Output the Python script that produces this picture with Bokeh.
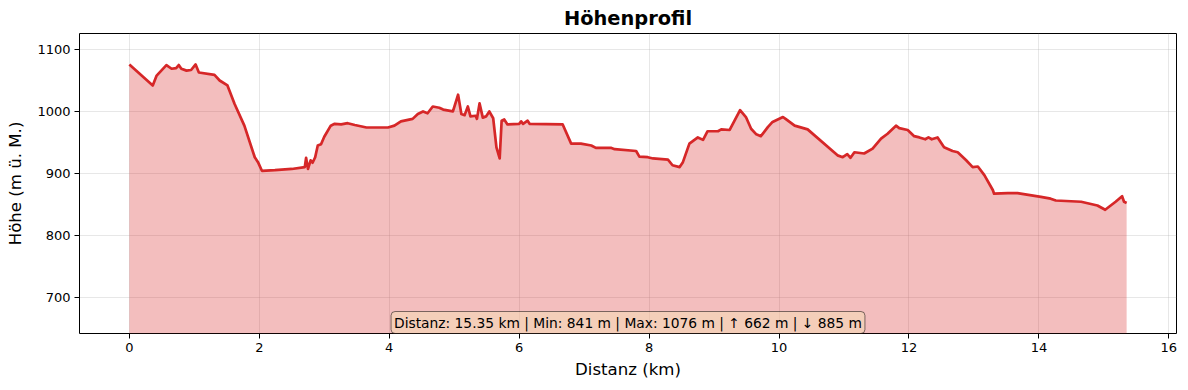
from bokeh.plotting import figure
from bokeh.models import Range1d, Label, FixedTicker
from bokeh.embed import file_html
from bokeh.resources import INLINE

# Distance along the route (km) and elevation (m a.s.l.)
dist_km = [0.00, 0.36, 0.42, 0.57, 0.65, 0.72, 0.76, 0.80, 0.88, 0.95, 1.02, 1.07,
           1.31, 1.39, 1.51, 1.62, 1.77, 1.93, 1.98, 2.04, 2.24, 2.50, 2.70, 2.72,
           2.75, 2.79, 2.82, 2.86, 2.90, 2.95, 3.00, 3.10, 3.16, 3.26, 3.36, 3.47,
           3.65, 3.98, 4.08, 4.18, 4.36, 4.44, 4.52, 4.59, 4.67, 4.77, 4.83, 4.98,
           5.06, 5.11, 5.16, 5.21, 5.25, 5.33, 5.35, 5.39, 5.44, 5.49, 5.54, 5.60,
           5.65, 5.70, 5.73, 5.77, 5.82, 6.00, 6.03, 6.06, 6.13, 6.16, 6.67, 6.80,
           6.95, 7.11, 7.18, 7.42, 7.47, 7.80, 7.85, 7.98, 8.06, 8.29, 8.36, 8.47,
           8.52, 8.62, 8.75, 8.83, 8.90, 9.06, 9.11, 9.24, 9.40, 9.49, 9.57, 9.65,
           9.72, 9.83, 9.90, 10.06, 10.10, 10.24, 10.44, 10.90, 10.98, 11.05, 11.10,
           11.16, 11.31, 11.44, 11.57, 11.67, 11.80, 11.85, 11.98, 12.08, 12.16,
           12.25, 12.30, 12.35, 12.44, 12.54, 12.67, 12.75, 12.88, 12.98, 13.06,
           13.16, 13.29, 13.31, 13.52, 13.67, 14.03, 14.18, 14.26, 14.65, 14.90,
           15.02, 15.18, 15.28, 15.31, 15.35]
elev_m = [1076, 1042, 1058, 1075, 1069, 1070, 1075, 1069, 1066, 1067, 1076, 1063,
          1059, 1050, 1042, 1012, 977, 926, 918, 904, 905, 907, 910, 925,
          907, 921, 917, 926, 945, 947, 959, 977, 980, 979, 981, 978,
          974, 974, 977, 984, 988, 996, 1000, 997, 1008, 1006, 1003, 1000,
          1027, 996, 994, 1008, 992, 993, 988, 1013, 990, 992, 1000, 989,
          942, 924, 985, 987, 979, 980, 984, 980, 985, 980, 979, 948,
          948, 945, 941, 941, 939, 936, 927, 926, 924, 922, 913, 910,
          918, 948, 958, 954, 968, 968, 971, 970, 1002, 991, 972, 963,
          960, 975, 983, 991, 988, 977, 971, 929, 926, 931, 925,
          934, 932, 940, 956, 964, 977, 973, 970, 960, 958,
          955, 958, 955, 958, 942, 936, 934, 921, 910, 911,
          897, 873, 867, 868, 868, 862, 859, 856, 854, 848,
          841, 854, 863, 854, 852]

x_ticks = [0, 2, 4, 6, 8, 10, 12, 14, 16]
y_ticks = [700, 800, 900, 1000, 1100]

stat_distance = "15.35"
stat_min = 841
stat_max = 1076
stat_up = 662
stat_down = 885

title_text = "Höhenprofil"
x_label = "Distanz (km)"
y_label = "Höhe (m ü. M.)"

FONT = "DejaVu Sans"
RED = "#d62728"

x0, x1 = min(dist_km), max(dist_km)
xpad = (x1 - x0) * 0.05
y_lo = stat_min - 200
y_hi = stat_max + 50

p = figure(width=1188, height=390, output_backend="svg", toolbar_location=None,
           x_range=Range1d(x0 - xpad, x1 + xpad), y_range=Range1d(y_lo, y_hi),
           min_border_left=79, min_border_right=12, min_border_top=33,
           min_border_bottom=57)

p.title.text = title_text
p.title.align = "center"
p.title.text_font = FONT
p.title.text_font_size = "19.4px"
p.title.text_font_style = "bold"
p.title.text_color = "black"
p.title.offset = 0
p.title.standoff = 7

p.background_fill_color = "white"
p.border_fill_color = "white"
p.outline_line_color = "black"
p.outline_line_width = 1
p.outline_line_alpha = 1

p.varea(x=dist_km, y1=[y_lo] * len(dist_km), y2=elev_m, fill_color=RED, fill_alpha=0.3)
p.line(dist_km, elev_m, line_color=RED, line_width=2.7, line_join="round")

for ax in (p.xaxis[0], p.yaxis[0]):
    ax.major_label_text_font = FONT
    ax.major_label_text_font_size = "13px"
    ax.major_label_text_color = "black"
    ax.axis_label_text_font = FONT
    ax.axis_label_text_font_size = "16.6px"
    ax.axis_label_text_font_style = "normal"
    ax.axis_label_text_color = "black"
    ax.axis_line_color = None
    ax.major_tick_in = 0
    ax.major_tick_out = 5
    ax.major_tick_line_color = "black"
    ax.minor_tick_line_color = None

p.xaxis[0].ticker = FixedTicker(ticks=x_ticks)
p.yaxis[0].ticker = FixedTicker(ticks=y_ticks)
p.xaxis[0].axis_label = x_label
p.yaxis[0].axis_label = y_label
p.xaxis[0].major_label_standoff = 4
p.yaxis[0].major_label_standoff = 4
p.xaxis[0].axis_label_standoff = 5
p.yaxis[0].axis_label_standoff = 9

p.xgrid.grid_line_color = "#b0b0b0"
p.ygrid.grid_line_color = "#b0b0b0"
p.xgrid.grid_line_alpha = 0.3
p.ygrid.grid_line_alpha = 0.3
p.xgrid.ticker = FixedTicker(ticks=x_ticks)
p.ygrid.ticker = FixedTicker(ticks=y_ticks)

info = (f"Distanz: {stat_distance} km | Min: {stat_min} m | Max: {stat_max} m | "
        f"\u2191 {stat_up} m | \u2193 {stat_down} m")
lbl = Label(x=(x0 + x1) / 2, y=0, x_units="data", y_units="screen", text=info,
            text_align="center", text_baseline="bottom",
            text_font=FONT, text_font_size="13.8px", text_color="black",
            background_fill_color="wheat", background_fill_alpha=0.5,
            border_line_color="black", border_line_alpha=0.5, border_line_width=1,
            padding=3, border_radius=4)
p.add_layout(lbl)

open("out.html", "w").write(file_html(p, INLINE))
